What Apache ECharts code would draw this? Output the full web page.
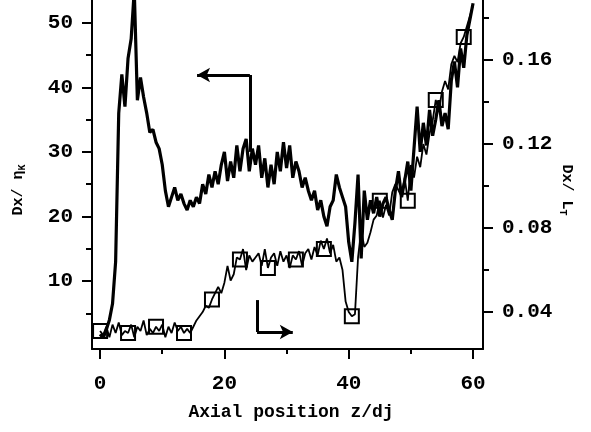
<!DOCTYPE html>
<html>
<head>
<meta charset="utf-8">
<script src="https://cdn.jsdelivr.net/npm/echarts@6/dist/echarts.min.js"></script>
<style>
  html, body { margin: 0; padding: 0; background: #fff; }
  #chart { width: 591px; height: 432px; }
</style>
</head>
<body>
<div id="chart"></div>
<script>
// axial positions z/dj
const zPos = [
  0, 0.5, 1, 1.5, 2, 2.5, 3, 3.5, 4, 4.5,
  5, 5.5, 6, 6.5, 7, 7.5, 8, 8.5, 9, 9.5,
  10, 10.5, 11, 11.5, 12, 12.5, 13, 13.5, 14, 14.5,
  15, 15.5, 16, 16.5, 17, 17.5, 18, 18.5, 19, 19.5,
  20, 20.5, 21, 21.5, 22, 22.5, 23, 23.5, 24, 24.5,
  25, 25.5, 26, 26.5, 27, 27.5, 28, 28.5, 29, 29.5,
  30, 30.5, 31, 31.5, 32, 32.5, 33, 33.5, 34, 34.5,
  35, 35.5, 36, 36.5, 37, 37.5, 38, 38.5, 39, 39.5,
  40, 40.5, 41, 41.5, 42, 42.5, 43, 43.5, 44, 44.5,
  45, 45.5, 46, 46.5, 47, 47.5, 48, 48.5, 49, 49.5,
  50, 50.5, 51, 51.5, 52, 52.5, 53, 53.5, 54, 54.5,
  55, 55.5, 56, 56.5, 57, 57.5, 58, 58.5, 59, 59.5,
  60
];

// Dx / eta_K (left axis, thick line)
const dxEta = [
  1.8, 1.2, 2.5, 4.0, 6.5, 13, 36, 42, 37, 44.5,
  47.5, 55, 38, 41.5, 38.5, 36, 33, 33.5, 31.5, 30.5,
  28, 24, 21.5, 23, 24.5, 22.5, 23.5, 22, 21, 22.5,
  21.5, 23, 22, 25, 23.5, 26.5, 24.5, 27, 25, 28,
  30, 25.5, 28.5, 26, 31, 27, 30.5, 32, 27, 30.5,
  28, 31, 26, 29, 24.5, 28, 25, 30, 27, 31.5,
  27.5, 31, 26, 28.5, 27, 24.5, 26, 24, 22.5, 24,
  21, 22.5, 20, 18.5, 21.5, 22.5, 26.5, 24.5, 23, 21.5,
  16, 13, 19, 26.5, 13.5, 24, 19.5, 22.5, 20.5, 23,
  20, 22, 23, 21, 19.5, 24, 27, 23, 25.5, 28.5,
  24, 30.5, 37, 30, 34.5, 31, 36.5, 32.5, 35, 38,
  34, 36, 33.5, 41, 44, 40, 46, 43, 48, 50.5,
  53
];

// Dx / L_T (right axis, thin line with squares)
const dxLt = [
  0.031, 0.029, 0.033, 0.028, 0.034, 0.030, 0.035, 0.029, 0.031, 0.030,
  0.034, 0.028, 0.033, 0.031, 0.036, 0.029, 0.032, 0.030, 0.033, 0.031,
  0.034, 0.028, 0.033, 0.030, 0.035, 0.031, 0.033, 0.030, 0.032, 0.030,
  0.033, 0.036, 0.038, 0.040, 0.043, 0.042, 0.046, 0.049, 0.052, 0.049,
  0.054, 0.062, 0.055, 0.058, 0.066, 0.065, 0.070, 0.060, 0.067, 0.064,
  0.066, 0.068, 0.062, 0.070, 0.061, 0.066, 0.068, 0.062, 0.069, 0.064,
  0.067, 0.061, 0.067, 0.065, 0.069, 0.062, 0.068, 0.070, 0.065, 0.071,
  0.067, 0.074, 0.070, 0.075, 0.068, 0.072, 0.064, 0.066, 0.060, 0.045,
  0.040, 0.038, 0.039, 0.066, 0.079, 0.071, 0.073, 0.078, 0.084, 0.086,
  0.093, 0.085, 0.091, 0.086, 0.097, 0.101, 0.098, 0.095, 0.104, 0.093,
  0.110, 0.104, 0.114, 0.109, 0.120, 0.115, 0.125, 0.131, 0.141, 0.136,
  0.145, 0.150, 0.146, 0.158, 0.162, 0.159, 0.168, 0.171, 0.176, 0.181,
  0.186
];
const markerStep = 9;

// ticks
const xTicks = [0, 20, 40, 60];
const xMinor = [10, 30, 50];
const leftTicks = [10, 20, 30, 40, 50];
const leftMinor = [5, 15, 25, 35, 45];
const rightTicks = [0.04, 0.08, 0.12, 0.16];
const rightMinor = [0.06, 0.10, 0.14, 0.18];

// annotation arrows (data coordinates)
const leftArrow = [[24.1, 30], [24.1, 41.9], [15.6, 41.9]];
const rightArrow = [[25.25, 0.0457], [25.25, 0.0305], [31.0, 0.0305]];

const FONT = "'Liberation Mono', 'DejaVu Sans Mono', monospace";
const black = '#000';

const chart = echarts.init(document.getElementById('chart'));

const thickData = zPos.map((z, i) => [z, dxEta[i]]);
const thinData = zPos.map((z, i) => [z, dxLt[i]]);
const markerData = thinData.filter((d, i) => i % markerStep === 0);

function arrowLines(pts) {
  return [
    [{ coord: pts[0], symbol: 'none' }, { coord: pts[1], symbol: 'none' }],
    [{ coord: pts[1], symbol: 'none' }, { coord: pts[2], symbol: 'arrow', symbolSize: [11, 13] }]
  ];
}

const axisLine = { show: true, onZero: false, lineStyle: { color: black, width: 2 } };
const noLine = { show: false, onZero: false };
const majorTick = { show: true, length: 10, lineStyle: { color: black, width: 2 } };
const minorTickStyle = { show: true, length: 6, lineStyle: { color: black, width: 2 } };
const tickLabel = { color: black, fontFamily: FONT, fontWeight: 'bold', fontSize: 21 };

const option = {
  animation: false,
  backgroundColor: '#fff',
  grid: { left: 92, right: 108, top: 0, bottom: 83 },
  xAxis: [
    {
      type: 'value', min: -1.3, max: 61.6, position: 'bottom',
      axisLine: axisLine,
      axisTick: Object.assign({ customValues: xTicks }, majorTick),
      axisLabel: Object.assign({ customValues: xTicks, margin: 24 }, tickLabel),
      splitLine: { show: false },
      name: 'Axial position z/dj',
      nameLocation: 'middle',
      nameGap: 54,
      nameTextStyle: { color: black, fontFamily: FONT, fontWeight: 'bold', fontSize: 18, padding: [0, 0, 0, 7] }
    },
    {
      type: 'value', min: -1.3, max: 61.6, position: 'bottom',
      axisLine: noLine,
      axisTick: Object.assign({ customValues: xMinor }, { show: true, length: 5, lineStyle: { color: black, width: 2 } }),
      axisLabel: { show: false },
      splitLine: { show: false }
    }
  ],
  yAxis: [
    {
      type: 'value', min: -0.5, max: 53.5, position: 'left',
      axisLine: axisLine,
      axisTick: Object.assign({ customValues: leftTicks }, majorTick),
      axisLabel: Object.assign({ customValues: leftTicks, margin: 19 }, tickLabel),
      splitLine: { show: false }
    },
    {
      type: 'value', min: 0.0224, max: 0.1886, position: 'right',
      axisLine: axisLine,
      axisTick: Object.assign({ customValues: rightTicks }, majorTick),
      axisLabel: Object.assign({ customValues: rightTicks, margin: 19, formatter: v => v.toFixed(2) }, tickLabel),
      splitLine: { show: false }
    },
    {
      type: 'value', min: -0.5, max: 53.5, position: 'left',
      axisLine: noLine,
      axisTick: Object.assign({ customValues: leftMinor }, minorTickStyle),
      axisLabel: { show: false },
      splitLine: { show: false }
    },
    {
      type: 'value', min: 0.0224, max: 0.1886, position: 'right',
      axisLine: noLine,
      axisTick: Object.assign({ customValues: rightMinor }, minorTickStyle),
      axisLabel: { show: false },
      splitLine: { show: false }
    }
  ],
  graphic: [
    {
      type: 'text', x: 18, y: 190, rotation: Math.PI / 2,
      style: {
        text: 'Dx/ η{s|K}', align: 'center', verticalAlign: 'middle',
        fill: black, font: "bold 15px " + FONT,
        rich: { s: { fontSize: 10, fontWeight: 'bold', fontFamily: FONT, padding: [9, 0, 0, 0], fill: black } }
      }
    },
    {
      type: 'text', x: 567, y: 190, rotation: -Math.PI / 2,
      style: {
        text: 'Dx/ L{s|T}', align: 'center', verticalAlign: 'middle',
        fill: black, font: "bold 15px " + FONT,
        rich: { s: { fontSize: 10, fontWeight: 'bold', fontFamily: FONT, padding: [9, 0, 0, 0], fill: black } }
      }
    }
  ],
  series: [
    {
      type: 'line', xAxisIndex: 0, yAxisIndex: 0,
      data: thickData, showSymbol: false, symbol: 'none',
      lineStyle: { color: black, width: 3.2 },
      markLine: {
        silent: true, animation: false,
        label: { show: false },
        lineStyle: { color: black, width: 3, type: 'solid' },
        data: arrowLines(leftArrow)
      },
      z: 3
    },
    {
      type: 'line', xAxisIndex: 0, yAxisIndex: 1,
      data: thinData, showSymbol: false, symbol: 'none',
      lineStyle: { color: black, width: 1.8 },
      markLine: {
        silent: true, animation: false,
        label: { show: false },
        lineStyle: { color: black, width: 3, type: 'solid' },
        data: arrowLines(rightArrow)
      },
      z: 3
    },
    {
      type: 'scatter', xAxisIndex: 0, yAxisIndex: 1,
      data: markerData, symbol: 'rect', symbolSize: 14,
      itemStyle: { color: 'rgba(0,0,0,0)', borderColor: black, borderWidth: 2, opacity: 1 },
      z: 4
    }
  ]
};

chart.setOption(option);
</script>
</body>
</html>
